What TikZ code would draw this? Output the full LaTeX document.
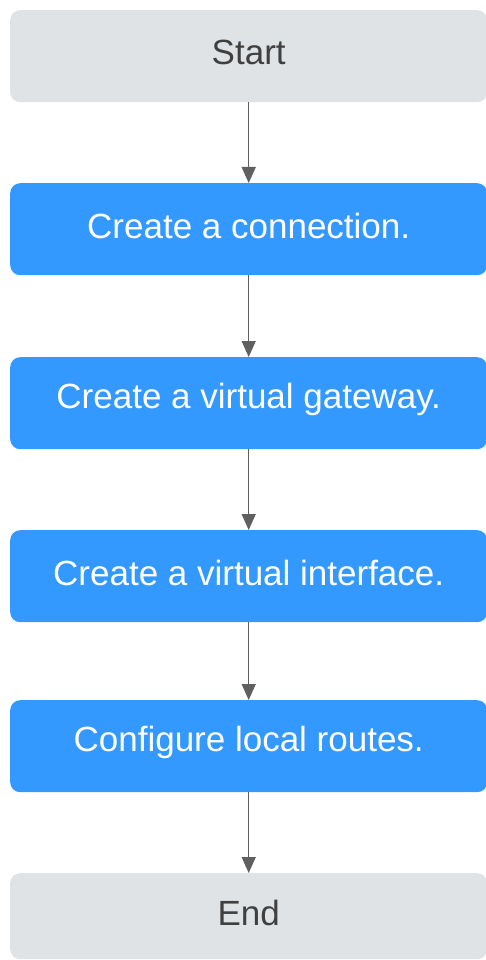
\documentclass[tikz,border=0pt]{standalone}
\usepackage{fontspec}
\setmainfont{Liberation Sans}
\usetikzlibrary{arrows.meta}
\definecolor{termgray}{HTML}{E0E3E5}
\definecolor{stepblue}{HTML}{3399FF}
\definecolor{termtext}{HTML}{404040}
\definecolor{arrowgray}{HTML}{606060}
\newcommand{\liftlabel}[1]{\raisebox{3.5pt}[\height][\depth]{#1}}
\begin{document}
\begin{tikzpicture}[x=1pt,y=1pt,
  boxbase/.style={rounded corners=10pt, minimum width=477pt, minimum height=92pt, inner sep=0pt, font=\fontsize{35}{40}\selectfont, anchor=north west},
  termbox/.style={boxbase, fill=termgray, text=termtext},
  stepbox/.style={boxbase, fill=stepblue, text=white},
  flowarrow/.style={draw=arrowgray, line width=1.4pt, -{Triangle[length=16pt,width=14pt]}, shorten >=0pt}
]
\useasboundingbox (0,0) rectangle (486,-960);
\node[termbox] (start) at (10,-10) {\liftlabel{Start}};
\node[stepbox] (s1) at (10,-183) {\liftlabel{Create a connection.}};
\node[stepbox] (s2) at (10,-357) {\liftlabel{Create a virtual gateway.}};
\node[stepbox] (s3) at (10,-530) {\liftlabel{Create a virtual interface.}};
\node[stepbox] (s4) at (10,-700) {\liftlabel{Configure local routes.}};
\node[termbox, minimum height=86pt] (end) at (10,-873) {\liftlabel{End}};
\draw[flowarrow] (start.south) -- (s1.north);
\draw[flowarrow] (s1.south) -- (s2.north);
\draw[flowarrow] (s2.south) -- (s3.north);
\draw[flowarrow] (s3.south) -- (s4.north);
\draw[flowarrow] (s4.south) -- (end.north);
\end{tikzpicture}
\end{document}
